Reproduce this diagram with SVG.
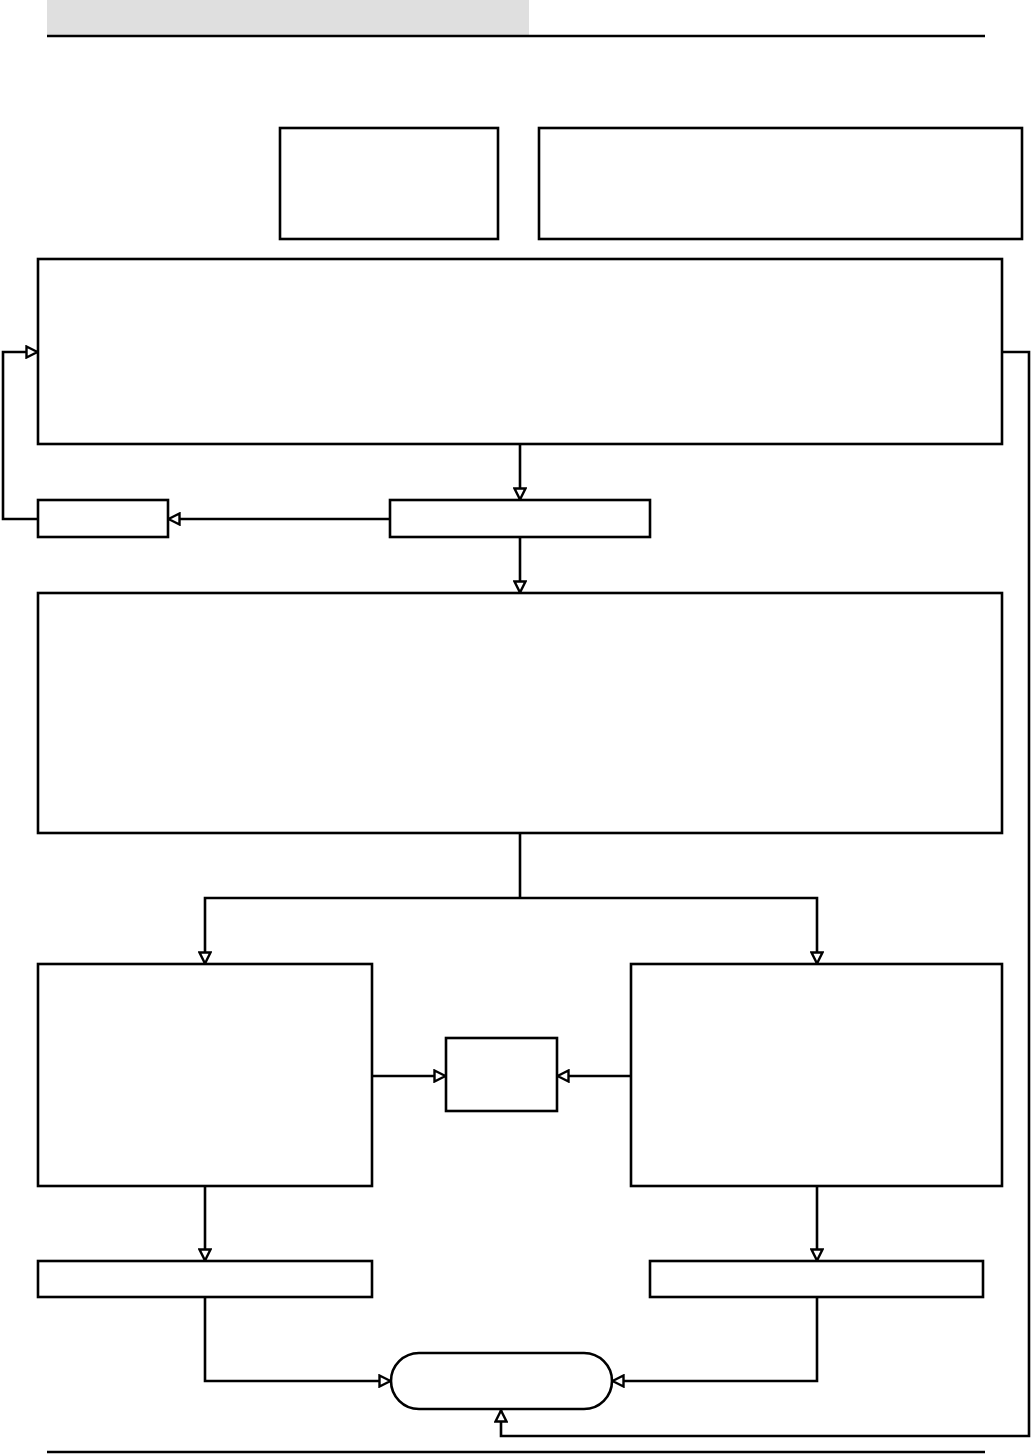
<svg xmlns="http://www.w3.org/2000/svg" width="1032" height="1456" viewBox="0 0 1032 1456">
<style>
.box{fill:#fff;stroke:#000;stroke-width:2.6}
.ln{fill:none;stroke:#000;stroke-width:2.6}
.arr{fill:none;stroke:#000;stroke-width:2.6;marker-end:url(#ah)}
</style>
<defs>
<marker id="ah" markerUnits="userSpaceOnUse" viewBox="0 0 14 14" refX="13" refY="7" markerWidth="14" markerHeight="14" orient="auto">
<path d="M1.5,1.5 L12.5,7 L1.5,12.5 Z" fill="#fff" stroke="#000" stroke-width="2.4"/>
</marker>
</defs>
<rect x="0" y="0" width="1032" height="1456" fill="#fff"/>
<g id="header">
<rect x="47" y="0" width="482" height="35" fill="#dfdfdf"/>
<line x1="47" y1="36" x2="985" y2="36" stroke="#000" stroke-width="2.6"/>
<line x1="47" y1="1452" x2="985" y2="1452" stroke="#000" stroke-width="2.6"/>
</g>
<g id="connectors">
<polyline class="arr" points="1002,352 1029,352 1029,1436 501,1436 501,1410"/>
<polyline class="arr" points="38,519 3,519 3,352 38,352"/>
<line class="arr" x1="520" y1="444" x2="520" y2="500"/>
<line class="arr" x1="390" y1="519" x2="168" y2="519"/>
<line class="arr" x1="520" y1="537" x2="520" y2="593"/>
<polyline class="ln" points="520,833 520,898"/>
<polyline class="arr" points="520,898 205,898 205,964"/>
<polyline class="arr" points="520,898 817,898 817,964"/>
<line class="arr" x1="372" y1="1076" x2="446" y2="1076"/>
<line class="arr" x1="631" y1="1076" x2="557" y2="1076"/>
<line class="arr" x1="205" y1="1186" x2="205" y2="1261"/>
<line class="arr" x1="817" y1="1186" x2="817" y2="1261"/>
<polyline class="arr" points="205,1297 205,1381 391,1381"/>
<polyline class="arr" points="817,1297 817,1381 612,1381"/>
</g>
<g id="n1"><rect class="box" x="280" y="128" width="218" height="111"/></g>
<g id="n2"><rect class="box" x="539" y="128" width="483" height="111"/></g>
<g id="n3"><rect class="box" x="38" y="259" width="964" height="185"/></g>
<g id="n4"><rect class="box" x="38" y="500" width="130" height="37"/></g>
<g id="n5"><rect class="box" x="390" y="500" width="260" height="37"/></g>
<g id="n6"><rect class="box" x="38" y="593" width="964" height="240"/></g>
<g id="n7"><rect class="box" x="38" y="964" width="334" height="222"/></g>
<g id="n8"><rect class="box" x="446" y="1038" width="111" height="73"/></g>
<g id="n9"><rect class="box" x="631" y="964" width="371" height="222"/></g>
<g id="n10"><rect class="box" x="38" y="1261" width="334" height="36"/></g>
<g id="n11"><rect class="box" x="650" y="1261" width="333" height="36"/></g>
<g id="n12"><rect class="box" x="391" y="1353" width="221" height="56" rx="28" ry="28"/></g>
</svg>
